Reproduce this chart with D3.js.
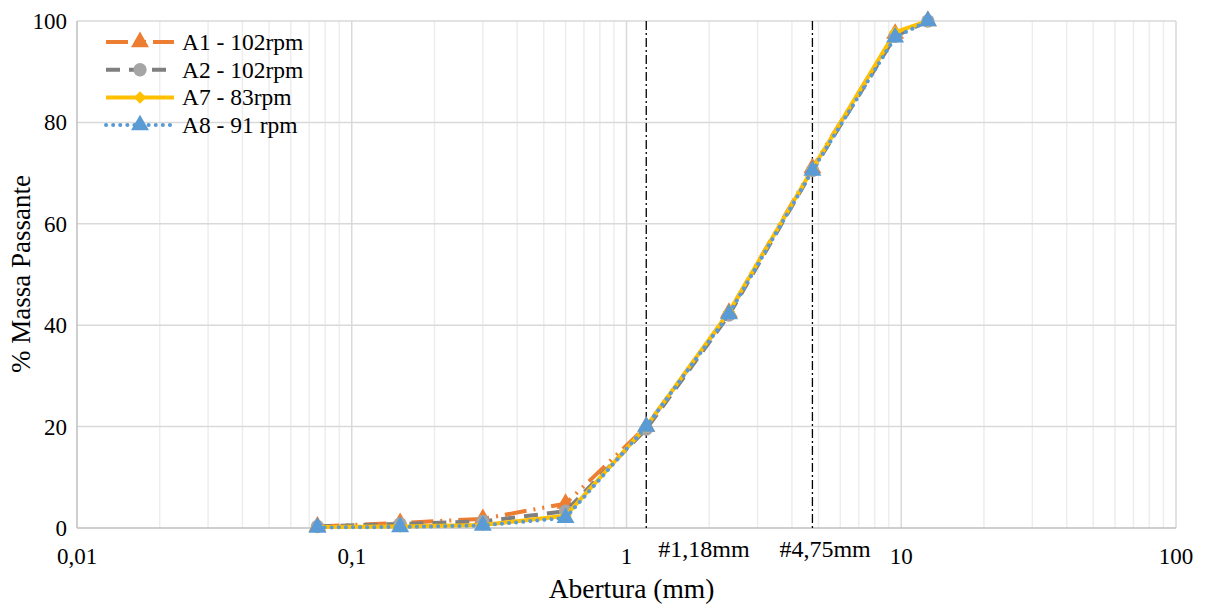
<!DOCTYPE html>
<html>
<head>
<meta charset="utf-8">
<script src="https://cdn.jsdelivr.net/npm/d3@7"></script>
<style>
  body { margin: 0; background: #fff; }
</style>
</head>
<body>
<div id="chart"></div>
<script>
// sieve openings (mm)
const sieves = [0.075, 0.15, 0.3, 0.6, 1.18, 2.36, 4.75, 9.5, 12.5];

const a1 = [0.3, 1.0, 1.8, 4.8, 20.0, 42.5, 71.0, 97.5, 100];
const a2 = [0.3, 0.8, 1.3, 3.3, 19.5, 42.0, 70.5, 97.0, 100];
const a7 = [0.2, 0.3, 0.6, 2.4, 20.0, 42.6, 70.8, 97.8, 100];
const a8 = [0.1, 0.2, 0.5, 2.0, 20.0, 42.2, 70.5, 96.8, 100];

const xTicks = [0.01, 0.1, 1, 10, 100];
const xTickLabels = ['0,01', '0,1', '1', '10', '100'];
const yTicks = [0, 20, 40, 60, 80, 100];
const refLines = [1.18, 4.75];
const refLabels = ['#1,18mm', '#4,75mm'];

const series = [
  { name: 'A1 - 102rpm', values: a1, color: '#ED7D31', dash: '22 7 2 7 2 7', marker: 'triangle', mfill: '#ED7D31' },
  { name: 'A2 - 102rpm', values: a2, color: '#7F7F7F', dash: '14 9', marker: 'circle', mfill: '#A5A5A5' },
  { name: 'A7 - 83rpm', values: a7, color: '#FFC000', dash: null, marker: 'diamond', mfill: '#FFC000' },
  { name: 'A8 - 91 rpm', values: a8, color: '#5B9BD5', dash: '0.1 7', marker: 'triangle', mfill: '#5B9BD5' },
];

const W = 1207, H = 608;
const margin = { top: 21, right: 31, bottom: 80, left: 77 };
const width = W - margin.left - margin.right;
const height = H - margin.top - margin.bottom;

const svg = d3.select('#chart').append('svg')
  .attr('width', W)
  .attr('height', H)
  .attr('font-family', "'Liberation Serif', 'Times New Roman', serif");

const g = svg.append('g')
  .attr('transform', `translate(${margin.left},${margin.top})`);

const x = d3.scaleLog().domain([0.01, 100]).range([0, width]);
const y = d3.scaleLinear().domain([0, 100]).range([height, 0]);

// minor vertical grid
const minor = [];
[0.01, 0.1, 1, 10].forEach(d => { for (let k = 2; k <= 9; k++) minor.push(d * k); });
g.selectAll('.minor').data(minor).enter().append('line')
  .attr('x1', d => x(d)).attr('x2', d => x(d))
  .attr('y1', 0).attr('y2', height)
  .attr('stroke', '#ededed').attr('stroke-width', 1.5);

// major vertical grid
g.selectAll('.vmaj').data(xTicks.slice(1)).enter().append('line')
  .attr('x1', d => x(d)).attr('x2', d => x(d))
  .attr('y1', 0).attr('y2', height)
  .attr('stroke', '#d9d9d9').attr('stroke-width', 1.5);

// horizontal grid
g.selectAll('.hgrid').data(yTicks.slice(1)).enter().append('line')
  .attr('x1', 0).attr('x2', width)
  .attr('y1', d => y(d)).attr('y2', d => y(d))
  .attr('stroke', '#d9d9d9').attr('stroke-width', 1.5);

// axes lines
g.append('line').attr('x1', 0).attr('x2', 0).attr('y1', 0).attr('y2', height)
  .attr('stroke', '#bfbfbf').attr('stroke-width', 1.5);
g.append('line').attr('x1', 0).attr('x2', width).attr('y1', height).attr('y2', height)
  .attr('stroke', '#bfbfbf').attr('stroke-width', 1.5);

// tick labels
g.selectAll('.xt').data(xTicks).enter().append('text')
  .attr('x', d => x(d)).attr('y', height + 36)
  .attr('text-anchor', 'middle')
  .attr('font-size', 23)
  .text((d, i) => xTickLabels[i]);

g.selectAll('.yt').data(yTicks).enter().append('text')
  .attr('x', -10).attr('y', d => y(d) + 8)
  .attr('text-anchor', 'end')
  .attr('font-size', 23)
  .text(d => d);

// axis titles
svg.append('text')
  .attr('x', margin.left + x(1) + 5).attr('y', 598)
  .attr('text-anchor', 'middle').attr('font-size', 27.5)
  .text('Abertura (mm)');
svg.append('text')
  .attr('transform', `translate(30,${margin.top + 253}) rotate(-90)`)
  .attr('text-anchor', 'middle').attr('font-size', 27)
  .text('% Massa Passante');

// reference lines (dash-dot)
g.selectAll('.ref').data(refLines).enter().append('line')
  .attr('x1', d => x(d)).attr('x2', d => x(d))
  .attr('y1', 0).attr('y2', height)
  .attr('stroke', '#000').attr('stroke-width', 1.3)
  .attr('stroke-dasharray', '9 3 2 3');

const refOffsets = [12, -33];
g.selectAll('.reflab').data(refLines).enter().append('text')
  .attr('x', (d, i) => x(d) + refOffsets[i]).attr('y', height + 29)
  .attr('font-size', 24)
  .text((d, i) => refLabels[i]);

// marker symbols
function symbolPath(type, size) {
  const t = type === 'triangle' ? d3.symbolTriangle : type === 'circle' ? d3.symbolCircle : d3.symbolDiamond2;
  return d3.symbol().type(t).size(size)();
}
const markerSize = { triangle: 140, circle: 140, diamond: 100 };

const line = d3.line()
  .x((d, i) => x(sieves[i]))
  .y(d => y(d));

series.forEach(s => {
  const sg = g.append('g');
  sg.append('path')
    .datum(s.values)
    .attr('fill', 'none')
    .attr('stroke', s.color)
    .attr('stroke-width', 4)
    .attr('stroke-linecap', s.dash && s.dash.startsWith('0.1') ? 'round' : 'butt')
    .attr('stroke-dasharray', s.dash)
    .attr('d', line);
  sg.selectAll('path.m').data(s.values).enter().append('path')
    .attr('class', 'm')
    .attr('transform', (d, i) => `translate(${x(sieves[i])},${y(d)})`)
    .attr('d', symbolPath(s.marker, markerSize[s.marker]))
    .attr('fill', s.mfill);
});

// legend
const legend = svg.append('g').attr('transform', 'translate(106,42)');
series.forEach((s, i) => {
  const row = legend.append('g').attr('transform', `translate(0,${i * 27.7})`);
  row.append('line')
    .attr('x1', 0).attr('x2', 68).attr('y1', 0).attr('y2', 0)
    .attr('stroke', s.color).attr('stroke-width', 4)
    .attr('stroke-linecap', s.dash && s.dash.startsWith('0.1') ? 'round' : 'butt')
    .attr('stroke-dasharray', s.dash);
  row.append('path')
    .attr('transform', 'translate(34,0)')
    .attr('d', symbolPath(s.marker, markerSize[s.marker]))
    .attr('fill', s.mfill);
  row.append('text')
    .attr('x', 76).attr('y', 8)
    .attr('font-size', 23.5)
    .text(s.name);
});
</script>
</body>
</html>
